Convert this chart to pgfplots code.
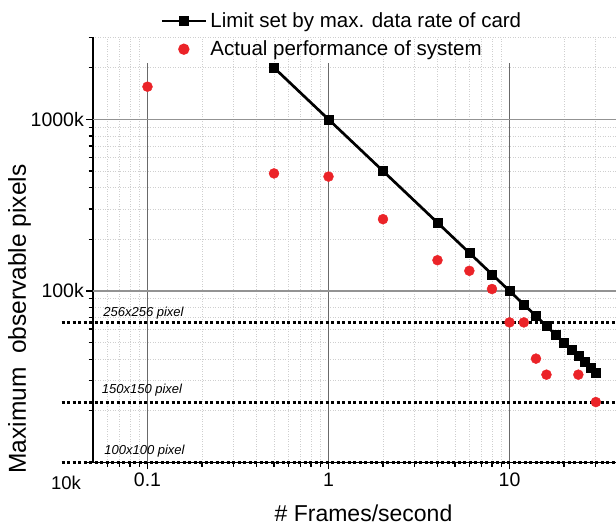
\documentclass[border=0pt]{standalone}
\usepackage{fontspec}
\setmainfont{Liberation Sans}
\usepackage{pgfplots}
\pgfplotsset{compat=1.18}
\definecolor{dotred}{RGB}{235,35,40}
\definecolor{majgrid}{RGB}{105,105,105}
\begin{document}
\begin{tikzpicture}
\begin{axis}[
  at={(93bp,62.5bp)}, anchor=south west,
  scale only axis, width=525.5bp, height=425bp,
  xmode=log, ymode=log,
  xmin=0.05, xmax=40, ymin=1e4, ymax=3e6,
  axis x line=bottom, axis y line=left,
  axis line style={-, line width=1.4bp, black},
  clip=false,
  xtick={0.1,1,10}, xticklabels={0.1,1,10},
  ytick={1e4,1e5,1e6}, yticklabels={,100k,1000k},
  minor xtick={0.06,0.07,0.08,0.09,0.2,0.3,0.4,0.5,0.6,0.7,0.8,0.9,2,3,4,5,6,7,8,9,20,30,40},
  minor ytick={2e4,3e4,4e4,5e4,6e4,7e4,8e4,9e4,2e5,3e5,4e5,5e5,6e5,7e5,8e5,9e5,2e6,3e6},
  tick align=outside,
  major tick length=7bp, minor tick length=4.5bp,
  every tick/.style={black, line width=1.2bp},
  grid=minor,
  minor grid style={dash pattern=on 1bp off 1.5bp, gray!38, line width=0.8bp},
  xticklabel style={font=\fontsize{19.5bp}{22bp}\selectfont},
  yticklabel style={font=\fontsize{19.5bp}{22bp}\selectfont, inner sep=2bp},
  /pgf/number format/assume math mode=true,
  legend style={at={(axis description cs:0,1)}, anchor=north west,
    xshift=68bp, yshift=27bp, draw=none, fill=none,
    font=\fontsize{20.5bp}{24bp}\selectfont, row sep=8bp, column sep=2bp,
    inner sep=0pt},
  legend cell align=left,
  legend image code/.code={\draw[mark repeat=2,mark phase=2,#1] plot coordinates {(0bp,0bp) (22bp,0bp) (44bp,0bp)};},
  legend image post style={line width=1.3bp},
]
% major grid lines
\draw[majgrid, line width=1.4bp] (axis cs:0.1,1e4) -- (axis cs:0.1,2.12e6);
\draw[majgrid, line width=1.4bp] (axis cs:1,1e4) -- (axis cs:1,2.12e6);
\draw[majgrid, line width=1.4bp] (axis cs:10,1e4) -- (axis cs:10,2.12e6);
\draw[gray!85, line width=1.3bp] (axis cs:0.05,1e5) -- (axis cs:40,1e5);
\draw[gray!85, line width=1.3bp] (axis cs:0.05,1e6) -- (axis cs:40,1e6);

% image size reference lines
\addplot[forget plot, black, line width=3bp, dash pattern=on 3bp off 2.5bp] coordinates {(0.0336,65536) (40,65536)};
\addplot[forget plot, black, line width=3bp, dash pattern=on 3bp off 2.5bp] coordinates {(0.0336,22500) (40,22500)};
\addplot[forget plot, black, line width=3bp, dash pattern=on 3bp off 2.5bp] coordinates {(0.0336,10000) (40,10000)};

\addplot[black, line width=2.7bp, mark=square*, mark size=4.5bp, mark options={solid, line width=0.5bp}] coordinates {
(0.5,2000000) (1,1000000) (2,500000) (4,250000) (6,166667) (8,125000)
(10,100000) (12,83333) (14,71429) (16,62500) (18,55556) (20,50000)
(22,45455) (24,41667) (26,38462) (28,35714) (30,33333)
};
\addlegendentry{Limit set by max. data rate of card}

\addplot[only marks, mark=*, mark size=5bp, dotred, mark options={draw=dotred, fill=dotred}] coordinates {
(0.1,1550000) (0.5,484000) (1,464000) (2,262000) (4,151000) (6,131000)
(8,102600) (10,65536) (12,65536) (14,40300) (16,32500) (24,32500) (30,22500)
};
\addlegendentry{Actual performance of system}
\end{axis}
\node[rotate=90, font=\fontsize{24.5bp}{28bp}\selectfont] at (19.5bp,206bp) {Maximum\ \ observable pixels};
\node[anchor=base, font=\fontsize{23bp}{27bp}\selectfont] at (363.5bp,4bp) {\# Frames/second};
\node[font=\fontsize{18.5bp}{22bp}\selectfont] at (66bp,42bp) {10k};
\node[font=\fontsize{13bp}{15bp}\selectfont\itshape] at (143.5bp,212bp) {256x256 pixel};
\node[font=\fontsize{13bp}{15bp}\selectfont\itshape] at (142bp,135bp) {150x150 pixel};
\node[font=\fontsize{13bp}{15bp}\selectfont\itshape] at (144.5bp,74bp) {100x100 pixel};
\pgfresetboundingbox
\path[use as bounding box] (0,0) rectangle (616bp,525bp);
\end{tikzpicture}
\end{document}
